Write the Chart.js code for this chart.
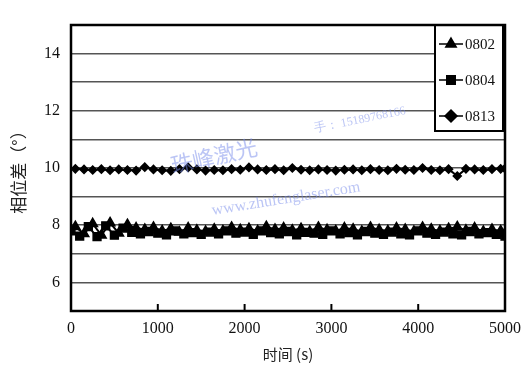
<!DOCTYPE html>
<html>
<head>
<meta charset="utf-8">
<script src="https://cdn.jsdelivr.net/npm/chart.js@4"></script>
<style>
html,body{margin:0;padding:0;background:#fff;}
#wrap{width:532px;height:367px;position:relative;}
</style>
</head>
<body>
<div id="wrap"><canvas id="c" width="532" height="367"></canvas></div>
<script>
const seriesNames = ['0802', '0804', '0813'];
const yTickLabels = [6, 8, 10, 12, 14];
const xTickLabels = [0, 1000, 2000, 3000, 4000, 5000];

const times0802 = [50,150,250,350,450,550,650,750,850,950,1050,1150,1250,1350,1450,1550,1650,1750,1850,1950,2050,2150,2250,2350,2450,2550,2650,2750,2850,2950,3050,3150,3250,3350,3450,3550,3650,3750,3850,3950,4050,4150,4250,4350,4450,4550,4650,4750,4850,4950,5000];
const values0802 = [7.95,7.70,8.05,7.65,8.08,7.72,8.02,7.90,7.85,7.92,7.80,7.88,7.75,7.90,7.82,7.78,7.86,7.80,7.92,7.84,7.88,7.80,7.95,7.85,7.90,7.82,7.88,7.78,7.92,7.84,7.80,7.90,7.86,7.78,7.92,7.84,7.80,7.90,7.85,7.78,7.92,7.86,7.80,7.88,7.94,7.82,7.90,7.78,7.85,7.80,7.72];

const times0804 = [0,100,200,300,400,500,600,700,800,900,1000,1100,1200,1300,1400,1500,1600,1700,1800,1900,2000,2100,2200,2300,2400,2500,2600,2700,2800,2900,3000,3100,3200,3300,3400,3500,3600,3700,3800,3900,4000,4100,4200,4300,4400,4500,4600,4700,4800,4900,5000];
const values0804 = [7.80,7.62,7.95,7.60,7.98,7.65,7.90,7.75,7.70,7.78,7.72,7.66,7.80,7.70,7.74,7.68,7.76,7.70,7.80,7.72,7.76,7.68,7.80,7.74,7.70,7.78,7.66,7.75,7.72,7.68,7.80,7.70,7.74,7.66,7.78,7.72,7.68,7.76,7.70,7.66,7.80,7.72,7.68,7.76,7.70,7.66,7.78,7.70,7.74,7.68,7.62];

const times0813 = [50,150,250,350,450,550,650,750,850,950,1050,1150,1250,1350,1450,1550,1650,1750,1850,1950,2050,2150,2250,2350,2450,2550,2650,2750,2850,2950,3050,3150,3250,3350,3450,3550,3650,3750,3850,3950,4050,4150,4250,4350,4450,4550,4650,4750,4850,4950,5000];
const values0813 = [9.97,9.95,9.93,9.96,9.92,9.95,9.93,9.91,10.03,9.95,9.92,9.90,9.96,10.02,9.95,9.91,9.93,9.92,9.96,9.94,10.02,9.95,9.93,9.96,9.92,10.00,9.94,9.92,9.95,9.93,9.91,9.94,9.95,9.92,9.96,9.93,9.92,9.97,9.94,9.93,10.00,9.93,9.92,9.96,9.72,9.97,9.95,9.93,9.96,9.97,9.98];

const pointStyles = ['triangle', 'rect', 'rectRot'];

function zip(xs, ys){ return xs.map((x,i)=>({x:x, y:ys[i]})); }

const seriesData = [zip(times0802, values0802), zip(times0804, values0804), zip(times0813, values0813)];

const SERIF = '"Liberation Serif", "DejaVu Serif", serif';
const CJK = '"Noto Sans CJK SC", "Liberation Serif", serif';

const framePlugin = {
  id: 'frame',
  afterDatasetsDraw(chart){
    const {ctx, chartArea:a, scales} = chart;
    ctx.save();
    // inward x ticks
    ctx.strokeStyle = '#000'; ctx.lineWidth = 2;
    xTickLabels.forEach(v=>{
      const px = scales.x.getPixelForValue(v);
      ctx.beginPath(); ctx.moveTo(px, a.bottom); ctx.lineTo(px, a.bottom-7); ctx.stroke();
    });
    // legend box
    const lx = 435, ly = a.top, lw = a.right - 2 - lx, lh = 106;
    ctx.fillStyle = '#fff';
    ctx.fillRect(lx, ly, lw, lh);
    ctx.strokeStyle = '#000'; ctx.lineWidth = 2;
    ctx.strokeRect(lx, ly, lw, lh);
    ctx.font = '15px ' + SERIF;
    ctx.textBaseline = 'middle';
    seriesNames.forEach((name,i)=>{
      const y = ly + 19 + i*36;
      ctx.strokeStyle = '#000'; ctx.lineWidth = 1.5;
      ctx.beginPath(); ctx.moveTo(lx+4, y); ctx.lineTo(lx+28, y); ctx.stroke();
      ctx.fillStyle = '#000';
      Chart.helpers.drawPoint(ctx, {pointStyle: pointStyles[i], radius: 6, borderWidth: 1}, lx+16, y);
      ctx.fillStyle = '#111';
      ctx.fillText(name, lx+30, y+1);
    });
    // frame
    ctx.strokeStyle = '#000'; ctx.lineWidth = 2.5;
    ctx.strokeRect(a.left, a.top, a.right - a.left, a.bottom - a.top);
    // watermark
    ctx.fillStyle = 'rgba(120,140,235,0.5)';
    ctx.save(); ctx.translate(214,156); ctx.rotate(-0.22);
    ctx.font = '22px ' + CJK; ctx.textAlign = 'center';
    ctx.fillText('珠峰激光', 0, 0); ctx.restore();
    ctx.save(); ctx.translate(360,120); ctx.rotate(-0.2);
    ctx.font = '12px ' + SERIF; ctx.textAlign = 'center';
    ctx.fillText('手： 15189768166', 0, 0); ctx.restore();
    ctx.save(); ctx.translate(286,199); ctx.rotate(-0.16);
    ctx.font = '16px ' + SERIF; ctx.textAlign = 'center';
    ctx.fillText('www.zhufenglaser.com', 0, 0); ctx.restore();
    ctx.restore();
  }
};

new Chart(document.getElementById('c'), {
  type: 'scatter',
  data: {
    datasets: seriesNames.map((n,i)=>({
      label: n,
      data: seriesData[i],
      showLine: true,
      borderColor: '#000',
      backgroundColor: '#000',
      borderWidth: 2,
      pointStyle: pointStyles[i],
      pointRadius: i === 2 ? 4 : 5.5,
      pointBorderWidth: 1.5,
      pointBackgroundColor: '#000',
      pointBorderColor: '#000'
    }))
  },
  options: {
    responsive: false,
    animation: false,
    layout: { padding: { left: 0, top: 25, right: 27, bottom: 0 } },
    plugins: { legend: { display: false }, tooltip: { enabled: false } },
    scales: {
      x: {
        type: 'linear', min: 0, max: 5000,
        afterFit(s){ s.height = 56; },
        border: { display: false },
        grid: { display: false, drawTicks: false },
        ticks: { stepSize: 1000, padding: 8, color: '#111', font: { family: SERIF, size: 16 }, maxRotation: 0,
          callback: v => xTickLabels.includes(v) ? String(v) : '' },
        title: { display: true, text: '时间 (s)', color: '#222', padding: { top: 3 },
          font: { family: CJK, size: 15 } }
      },
      y: {
        min: 5, max: 15,
        afterFit(s){ s.width = 71; },
        border: { display: false },
        grid: { color: '#555', lineWidth: 1.5, drawTicks: false },
        ticks: { stepSize: 1, padding: 11, color: '#111', font: { family: SERIF, size: 16 },
          callback: v => yTickLabels.includes(v) ? String(v) : '' },
        title: { display: true, text: '相位差（°）', color: '#222', padding: { top: 8, bottom: 2 },
          font: { family: CJK, size: 17 } }
      }
    }
  },
  plugins: [framePlugin]
});
</script>
</body>
</html>
